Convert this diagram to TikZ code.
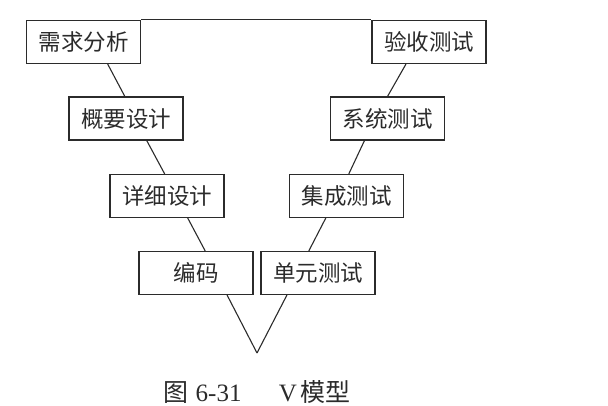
\documentclass[tikz,border=0pt]{standalone}
\usepackage{fontspec}
\setmainfont{Liberation Serif}
\newfontfamily\cjk{Noto Sans CJK SC}
\usetikzlibrary{calc}
\definecolor{ink}{HTML}{2B2B2B}
\begin{document}
\begin{tikzpicture}[x=1pt,y=-1pt,
  box/.style={draw=ink,text=ink,line width=1.1pt,rectangle,minimum width=114pt,minimum height=43pt,inner sep=0pt,font=\cjk\fontsize{22.5}{22.5}\selectfont},
  link/.style={draw=ink,line width=1.1pt}]
\useasboundingbox (0,0) rectangle (608,406);
\node[box] (xq) at (83.5,42) {需求分析};
\node[box] (ys) at (429,42) {验收测试};
\node[box] (gy) at (126,118.5) {概要设计};
\node[box] (xt) at (387.5,118.5) {系统测试};
\node[box] (xx) at (167,196) {详细设计};
\node[box] (jc) at (346.5,196) {集成测试};
\node[box] (bm) at (196,273) {编码};
\node[box] (dy) at (318,273) {单元测试};
\coordinate (v) at (257,353);
\node[text=ink] (cap) at (257,392) {\fontsize{25}{25}\selectfont{\cjk 图}\hspace{0.3em}6-31\hspace{1.5em}V\hspace{0.15em}{\cjk 模型}};
\draw[link] (xq.north east) -- (ys.north west);
\draw[link] ($(xq.south west)!0.71!(xq.south east)$) -- ($(gy.north west)!0.49!(gy.north east)$);
\draw[link] ($(gy.south west)!0.68!(gy.south east)$) -- ($(xx.north west)!0.48!(xx.north east)$);
\draw[link] ($(xx.south west)!0.68!(xx.south east)$) -- ($(bm.north west)!0.58!(bm.north east)$);
\draw[link] ($(bm.south west)!0.77!(bm.south east)$) -- (v);
\draw[link] ($(dy.south west)!0.23!(dy.south east)$) -- (v);
\draw[link] ($(jc.south west)!0.32!(jc.south east)$) -- ($(dy.north west)!0.42!(dy.north east)$);
\draw[link] ($(xt.south west)!0.30!(xt.south east)$) -- ($(jc.north west)!0.52!(jc.north east)$);
\draw[link] ($(ys.south west)!0.30!(ys.south east)$) -- ($(xt.north west)!0.50!(xt.north east)$);
\end{tikzpicture}
\end{document}
